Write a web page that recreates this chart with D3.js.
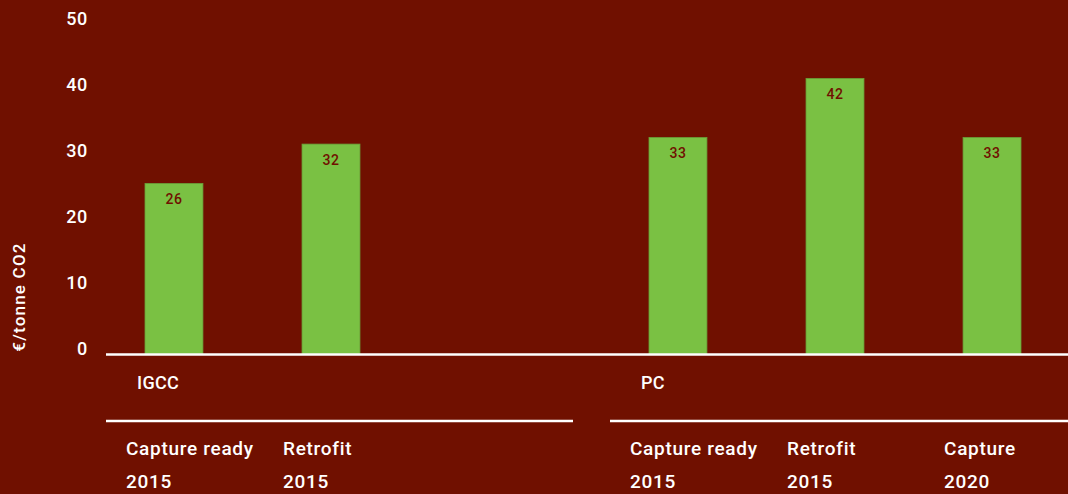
<!DOCTYPE html>
<html>
<head>
<meta charset="utf-8">
<script src="https://cdn.jsdelivr.net/npm/d3@7"></script>
<style>
  html, body { margin: 0; padding: 0; background: #701000; }
  svg { display: block; }
  text { font-family: Roboto, "DejaVu Sans", sans-serif; }
</style>
</head>
<body>
<svg id="chart" width="1068" height="494"></svg>
<script>
// Cost of CO2 capture by plant type and timing
const groups = ["IGCC", "PC"];
const subSlots = ["a", "b", "c"];
const categories = [
  { group: "IGCC", slot: "a", line1: "Capture ready", line2: "2015" },
  { group: "IGCC", slot: "b", line1: "Retrofit", line2: "2015" },
  { group: "PC", slot: "a", line1: "Capture ready", line2: "2015" },
  { group: "PC", slot: "b", line1: "Retrofit", line2: "2015" },
  { group: "PC", slot: "c", line1: "Capture", line2: "2020" }
];
const values = [26, 32, 33, 42, 33];
const yTicks = [0, 10, 20, 30, 40, 50];
const yTitle = "€/tonne CO2";

const svg = d3.select("#chart");
const W = 1068, H = 494;

svg.append("rect").attr("width", W).attr("height", H).attr("fill", "#701000");

const y = d3.scaleLinear().domain([0, 50]).range([354, 26]);

const outer = d3.scaleBand().domain(groups).range([106, 1077]).paddingInner(0.0734).paddingOuter(0);
const inner = d3.scaleBand().domain(subSlots).range([39, 411]).paddingInner(0.631).paddingOuter(0).align(0);

const xLeft = (d) => outer(d.group) + inner(d.slot);

const labelFont = (sel, size) => sel
  .attr("fill", "#ffffff")
  .attr("font-size", size)
  .attr("font-weight", 500)
  .attr("letter-spacing", 0.7);

// y tick labels
svg.append("g").selectAll("text").data(yTicks).join("text")
  .attr("x", 88)
  .attr("y", d => y(d) - 6 - d * 0.03)
  .attr("text-anchor", "end")
  .attr("dominant-baseline", "central")
  .call(labelFont, 18)
  .text(d => d);

// y axis title
svg.append("text")
  .attr("transform", "translate(19,297) rotate(-90)")
  .attr("text-anchor", "middle")
  .attr("dominant-baseline", "central")
  .call(labelFont, 17)
  .attr("letter-spacing", 1.2)
  .text(yTitle);

// bars
svg.append("g").selectAll("rect").data(categories).join("rect")
  .attr("x", d => xLeft(d))
  .attr("y", (d, i) => y(values[i]))
  .attr("width", inner.bandwidth())
  .attr("height", (d, i) => y(0) - y(values[i]))
  .attr("fill", "#7ac143")
  .attr("stroke", "#6a9f38")
  .attr("stroke-width", 0.8);

// value labels inside bars
svg.append("g").selectAll("text").data(categories).join("text")
  .attr("x", d => xLeft(d) + inner.bandwidth() / 2)
  .attr("y", (d, i) => y(values[i]) + 15.5)
  .attr("text-anchor", "middle")
  .attr("dominant-baseline", "central")
  .attr("fill", "#701000")
  .attr("font-size", 14)
  .attr("font-weight", 500)
  .attr("letter-spacing", 0.5)
  .text((d, i) => values[i]);

// baseline
svg.append("line")
  .attr("x1", 106).attr("x2", W)
  .attr("y1", y(0) + 0.5).attr("y2", y(0) + 0.5)
  .attr("stroke", "#ffffff").attr("stroke-width", 2.5);

// group labels and separators
svg.append("g").selectAll("text").data(groups).join("text")
  .attr("x", d => outer(d) + 31)
  .attr("y", 382)
  .attr("dominant-baseline", "central")
  .call(labelFont, 18)
  .attr("letter-spacing", 0.3)
  .text(d => d);

svg.append("g").selectAll("line").data(groups).join("line")
  .attr("x1", d => outer(d))
  .attr("x2", d => outer(d) + outer.bandwidth())
  .attr("y1", 421).attr("y2", 421)
  .attr("stroke", "#ffffff").attr("stroke-width", 2.5);

// category labels (two lines)
const cat = svg.append("g").selectAll("g").data(categories).join("g")
  .attr("transform", d => `translate(${xLeft(d) - 19},0)`);
cat.append("text")
  .attr("y", 448)
  .attr("dominant-baseline", "central")
  .call(labelFont, 19)
  .text(d => d.line1);
cat.append("text")
  .attr("y", 481)
  .attr("dominant-baseline", "central")
  .call(labelFont, 19)
  .text(d => d.line2);
</script>
</body>
</html>
